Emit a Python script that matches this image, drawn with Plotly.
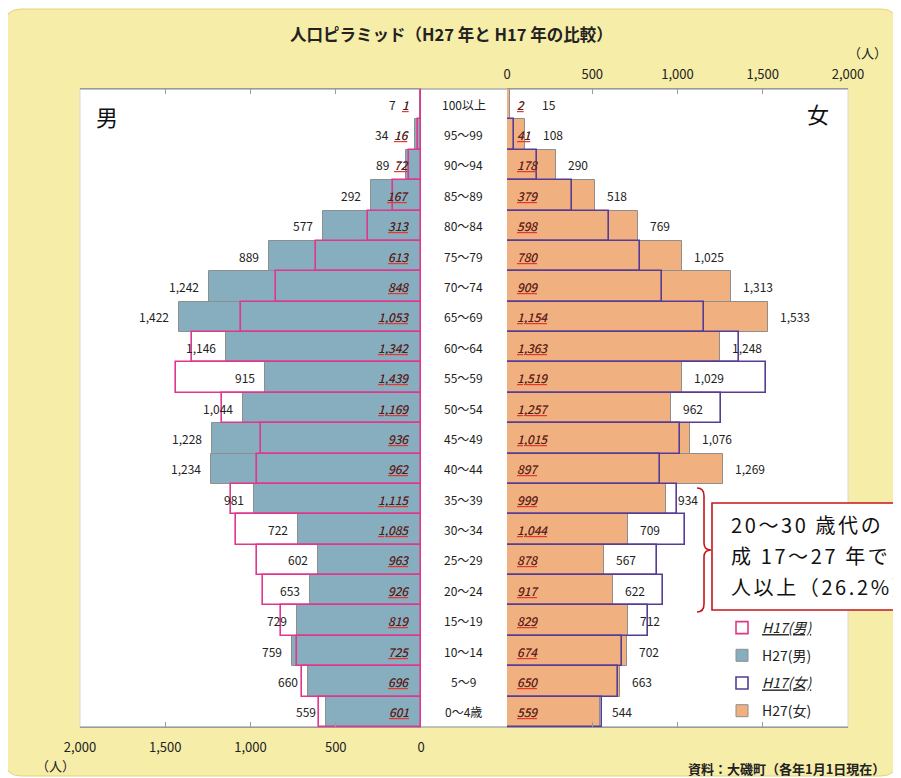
import plotly.graph_objects as go

# ---------------- data (top row -> bottom row) ----------------
ages = ["100以上", "95～99", "90～94", "85～89", "80～84", "75～79", "70～74",
        "65～69", "60～64", "55～59", "50～54", "45～49", "40～44", "35～39",
        "30～34", "25～29", "20～24", "15～19", "10～14", "5～9", "0～4歳"]
male_h27 = [7, 34, 89, 292, 577, 889, 1242, 1422, 1146, 915, 1044, 1228, 1234,
            981, 722, 602, 653, 729, 759, 660, 559]
male_h17 = [1, 16, 72, 167, 313, 613, 848, 1053, 1342, 1439, 1169, 936, 962,
            1115, 1085, 963, 926, 819, 725, 696, 601]
female_h27 = [15, 108, 290, 518, 769, 1025, 1313, 1533, 1248, 1029, 962, 1076,
              1269, 934, 709, 567, 622, 712, 702, 663, 544]
female_h17 = [2, 41, 178, 379, 598, 780, 909, 1154, 1363, 1519, 1257, 1015, 897,
              999, 1044, 878, 917, 829, 674, 650, 559]
x_tick_vals = [0, 500, 1000, 1500, 2000]
x_tick_text = ["0", "500", "1,000", "1,500", "2,000"]
series_names = ["H27(男)", "H17(男)", "H27(女)", "H17(女)"]
title_text = "人口ピラミッド（H27 年と H17 年の比較）"
note_lines = ["20～30 歳代の", "成 17～27 年で", "人以上（26.2%）"]
source_text = "資料：大磯町（各年1月1日現在）"

# ---------------- styling ----------------
VIEW_W, VIEW_H = 901, 778
OFF = 8                                   # page body margin
W, H = VIEW_W - OFF, VIEW_H - OFF         # figure size
FONT = "Noto Sans CJK JP"
C_M = "#86AEBF"
C_F = "#F1B07F"
C_M17 = "#E0368C"
C_F17 = "#563C94"
EDGE = "#8E8E8E"
RED = "#E8352E"
DARK = "#222222"
BOX_RED = "#C4161C"


def px(x):
    """window pixel -> paper fraction"""
    return (x - OFF) / W


def py(y):
    return 1 - (y - OFF) / H


M_L, M_R = 80, 421      # male plot pixel extent
F_L, F_R = 507, 848     # female plot pixel extent
P_T, P_B = 89, 727      # plot top / bottom
SCALE = (M_R - M_L) / 2000.0   # px per person (axis range 0..2000)

UL = "<span style='text-decoration:underline;text-decoration-color:#E8352E'><i>{}</i></span>"

fig = go.Figure()
fig.add_bar(y=ages, x=male_h27, orientation="h", xaxis="x", yaxis="y",
            name=series_names[0], legendrank=2, legendgroup="g2",
            marker=dict(color=C_M, line=dict(color=EDGE, width=1)))
fig.add_bar(y=ages, x=male_h17, orientation="h", xaxis="x", yaxis="y",
            name=UL.format(series_names[1]), legendrank=1, legendgroup="g1",
            marker=dict(color="rgba(0,0,0,0)", line=dict(color=C_M17, width=1.6)))
fig.add_bar(y=ages, x=female_h27, orientation="h", xaxis="x2", yaxis="y",
            name=series_names[2], legendrank=4, legendgroup="g4",
            marker=dict(color=C_F, line=dict(color=EDGE, width=1)))
fig.add_bar(y=ages, x=female_h17, orientation="h", xaxis="x2", yaxis="y",
            name=UL.format(series_names[3]), legendrank=3, legendgroup="g3",
            marker=dict(color="rgba(0,0,0,0)", line=dict(color=C_F17, width=1.6)))

axis_common = dict(
    tickvals=x_tick_vals, ticktext=x_tick_text, ticks="inside", ticklen=5,
    tickcolor="#9a9a9a", showline=True, linecolor="#9a9a9a", linewidth=1,
    mirror="ticks", showgrid=False, zeroline=False,
    tickfont=dict(family=FONT, size=13, color=DARK), anchor="y", fixedrange=True,
)

annotations = []
NUM = 12


def tw(s):
    return len(s) * 6.9


for a, m27, m17, f27, f17 in zip(ages, male_h27, male_h17, female_h27, female_h17):
    s_m17 = f"{m17:,}"
    s_f17 = f"{f17:,}"
    # italic H17 values with red underline (red underlined copy under a dark copy)
    for s, xr, anc, sh, col in [(s_m17, "x", "right", -10, "#2a2a2a"),
                                (s_f17, "x2", "left", 8, "#3a2a1e")]:
        annotations.append(dict(x=0, y=a, xref=xr, yref="y", text=f"<i><u>{s}</u></i>",
                                showarrow=False, xanchor=anc, yanchor="middle", xshift=sh,
                                font=dict(family=FONT, size=NUM, color=RED)))
        annotations.append(dict(x=0, y=a, xref=xr, yref="y", text=f"<i>{s}</i>",
                                showarrow=False, xanchor=anc, yanchor="middle", xshift=sh,
                                font=dict(family=FONT, size=NUM, color=col)))
    # H27 values just beyond the end of the filled bar
    extra_m = max(0.0, 10 + tw(s_m17) + 6 - m27 * SCALE - 8)
    annotations.append(dict(x=m27, y=a, xref="x", yref="y", text=f"{m27:,}",
                            showarrow=False, xanchor="right", yanchor="middle",
                            xshift=-(8 + extra_m),
                            font=dict(family=FONT, size=NUM, color=DARK)))
    extra_f = max(0.0, 8 + max(tw(s_f17), 13) + 12 - f27 * SCALE - 10)
    annotations.append(dict(x=f27, y=a, xref="x2", yref="y", text=f"{f27:,}",
                            showarrow=False, xanchor="left", yanchor="middle",
                            xshift=10 + extra_f,
                            font=dict(family=FONT, size=NUM, color=DARK)))
    # age-class label in the centre column
    annotations.append(dict(x=px(464), y=a, xref="paper", yref="y", text=a,
                            showarrow=False, xanchor="center", yanchor="middle",
                            font=dict(family=FONT, size=12, color=DARK)))


def txt(x, y, text, size, anchor="center", color="#222"):
    return dict(x=px(x), y=py(y), xref="paper", yref="paper", text=text,
                showarrow=False, xanchor=anchor, yanchor="middle",
                font=dict(family=FONT, size=size, color=color))


annotations += [
    txt(451, 34, f"<b>{title_text}</b>", 16.5),
    txt(867, 52, "（人）", 13),
    txt(55, 765, "（人）", 13),
    txt(107, 116, "男", 22, color="#111"),
    txt(818, 113, "女", 22, color="#111"),
    txt(887, 768, f"<b>{source_text}</b>", 13, anchor="right"),
]
for line, yy in zip(note_lines, [524, 555, 586]):
    annotations.append(txt(729, yy, f"<span style='letter-spacing:2.6px'>{line}</span>",
                           20, anchor="left", color="#111"))


def pix_path(cmds, close=False):
    out = []
    for c in cmds:
        if c[0] == "Q":
            out.append(f"Q{px(c[1]):.5f},{py(c[2]):.5f} {px(c[3]):.5f},{py(c[4]):.5f}")
        else:
            out.append(f"{c[0]}{px(c[1]):.5f},{py(c[2]):.5f}")
    return " ".join(out) + (" Z" if close else "")


def rounded_rect_path(x0, y0, x1, y1, r):
    return pix_path([
        ("M", x0 + r, y0), ("L", x1 - r, y0), ("Q", x1, y0, x1, y0 + r),
        ("L", x1, y1 - r), ("Q", x1, y1, x1 - r, y1), ("L", x0 + r, y1),
        ("Q", x0, y1, x0, y1 - r), ("L", x0, y0 + r), ("Q", x0, y0, x0 + r, y0),
    ], close=True)


brace = pix_path([("M", 697, 488), ("Q", 704, 488, 704, 496), ("L", 704, 543),
                  ("Q", 704, 550, 711, 550), ("Q", 704, 550, 704, 557), ("L", 704, 604),
                  ("Q", 704, 612, 697, 612)])

shapes = [
    dict(type="path", xref="paper", yref="paper", path=rounded_rect_path(5, 9, 897, 776, 16),
         fillcolor="#F6EDA8", line=dict(color="#E4D37C", width=1), layer="below"),
    dict(type="rect", xref="paper", yref="paper", x0=px(M_L), x1=px(F_R), y0=py(P_B), y1=py(P_T),
         fillcolor="white", line=dict(color="#d8d8d8", width=1), layer="below"),
    dict(type="line", xref="paper", yref="paper", x0=px(M_L), x1=px(F_R), y0=py(P_T), y1=py(P_T),
         line=dict(color="#9a9a9a", width=1.2), layer="below"),
    dict(type="line", xref="paper", yref="paper", x0=px(M_L), x1=px(F_R), y0=py(P_B), y1=py(P_B),
         line=dict(color="#9a9a9a", width=1.2), layer="below"),
    dict(type="rect", xref="paper", yref="paper", x0=px(712), x1=px(930), y0=py(610), y1=py(503),
         fillcolor="white", line=dict(color=BOX_RED, width=1.6), layer="above"),
    dict(type="path", xref="paper", yref="paper", path=brace,
         line=dict(color=BOX_RED, width=1.6), layer="above"),
]

fig.update_layout(
    width=W, height=H, margin=dict(l=0, r=0, t=0, b=0, autoexpand=False),
    paper_bgcolor="white", plot_bgcolor="rgba(0,0,0,0)",
    barmode="overlay", bargap=0,
    font=dict(family=FONT, color=DARK),
    xaxis=dict(domain=[px(M_L), px(M_R)], range=[2000, 0], side="bottom",
               ticklabelstandoff=8, **axis_common),
    xaxis2=dict(domain=[px(F_L), px(F_R)], range=[0, 2000], side="top",
                ticklabelstandoff=4, **axis_common),
    yaxis=dict(domain=[py(P_B), py(P_T)], categoryorder="array",
               categoryarray=list(reversed(ages)), showticklabels=False,
               showgrid=False, zeroline=False, showline=False, ticks="",
               fixedrange=True),
    showlegend=True,
    legend=dict(x=px(722), y=py(612), xanchor="left", yanchor="top",
                bgcolor="rgba(0,0,0,0)", traceorder="grouped", tracegroupgap=6.5,
                font=dict(family=FONT, size=14, color="#222"), itemwidth=30),
    annotations=annotations,
    shapes=shapes,
)

fig.write_html("out.html")
